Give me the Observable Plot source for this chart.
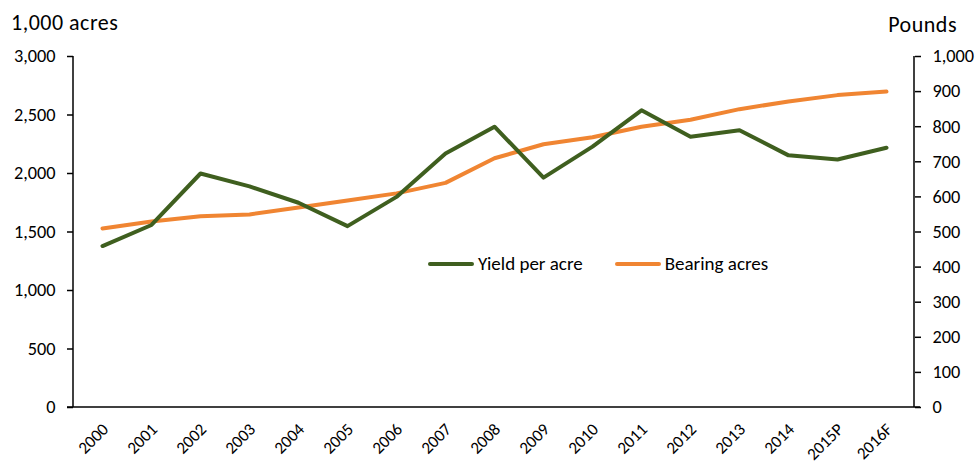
<!DOCTYPE html>
<html>
<head>
<meta charset="utf-8">
<script src="https://cdn.jsdelivr.net/npm/d3@7"></script>
<script src="https://cdn.jsdelivr.net/npm/@observablehq/plot@0.6"></script>
<style>
  body { margin: 0; background: #fff; }
  #chart { position: relative; width: 977px; height: 466px; font-family: Carlito, Calibri, Lato, sans-serif; color: #000; }
  .ttl { position: absolute; font-size: 22px; line-height: 1; letter-spacing: 0.5px; }
  .legend { position: absolute; top: 254px; left: 428px; display: flex; align-items: center; font-size: 19px; line-height: 20px; }
  .legend .item { display: flex; align-items: center; margin-right: 32px; }
  .legend .sw { width: 46px; height: 4px; border-radius: 2px; margin-right: 4px; }
</style>
</head>
<body>
<div id="chart"></div>
<script>
// Categories
const years = ["2000","2001","2002","2003","2004","2005","2006","2007","2008","2009","2010","2011","2012","2013","2014","2015P","2016F"];
// Series
const yieldPerAcre = [1380,1560,2000,1890,1750,1550,1800,2170,2400,1965,2230,2540,2315,2370,2155,2120,2220]; // left-axis units
const bearingAcres = [510,530,545,550,570,590,610,640,710,750,770,800,820,850,872,890,900];            // right-axis units
// Tick labels
const leftTicks = [0,500,1000,1500,2000,2500,3000];
const rightTicks = [0,100,200,300,400,500,600,700,800,900,1000];
const leftTitle = "1,000 acres";
const rightTitle = "Pounds";
const seriesNames = ["Yield per acre", "Bearing acres"];
const colors = ["#3F5F1F", "#F08532"];

const ratio = 3000 / 1000; // right axis -> left axis
const fmt = d3.format(",");
const FS = 18.3;

const yieldData = years.map((year, i) => ({year, value: yieldPerAcre[i]}));
const acresData = years.map((year, i) => ({year, value: bearingAcres[i] * ratio}));

const axisLines = (index, scales, values, dim) => {
  const g = d3.create("svg:g").attr("stroke", "#000").attr("stroke-width", 1.5).attr("fill", "none");
  const x0 = dim.marginLeft, x1 = dim.width - dim.marginRight;
  const y0 = dim.marginTop, y1 = dim.height - dim.marginBottom;
  g.append("line").attr("x1", x0).attr("x2", x0).attr("y1", y0).attr("y2", y1);
  g.append("line").attr("x1", x1).attr("x2", x1).attr("y1", y0).attr("y2", y1);
  g.append("line").attr("x1", x0 - 6).attr("x2", x1 + 6).attr("y1", y1).attr("y2", y1);
  return g.node();
};

const plot = Plot.plot({
  width: 977,
  height: 466,
  marginLeft: 73,
  marginRight: 63,
  marginTop: 56,
  marginBottom: 59,
  style: {fontFamily: "Carlito, Calibri, Lato, sans-serif", fontSize: FS + "px", color: "#000", background: "#fff", overflow: "visible"},
  x: {type: "point", domain: years, padding: 0.5},
  y: {domain: [0, 3000]},
  marks: [
    Plot.axisY(leftTicks, {anchor: "left", tickSize: 6, tickPadding: 12, tickFormat: fmt, label: null, strokeWidth: 1.5, fontSize: FS}),
    Plot.axisY(rightTicks.map(d => d * ratio), {anchor: "right", tickSize: 6, tickPadding: 12, tickFormat: d => fmt(Math.round(d / ratio)), label: null, strokeWidth: 1.5, fontSize: FS}),
    Plot.axisX({tickRotate: -45, tickSize: 0, tickPadding: 19, dx: 3, label: null, fontSize: 17}),
    axisLines,
    Plot.line(acresData, {x: "year", y: "value", stroke: colors[1], strokeWidth: 4, strokeLinecap: "round", strokeLinejoin: "round"}),
    Plot.line(yieldData, {x: "year", y: "value", stroke: colors[0], strokeWidth: 4, strokeLinecap: "round", strokeLinejoin: "round"})
  ]
});

const chart = document.getElementById("chart");
chart.appendChild(plot);

const t1 = document.createElement("div");
t1.className = "ttl"; t1.textContent = leftTitle;
t1.style.left = "11px"; t1.style.top = "12px";
chart.appendChild(t1);

const t2 = document.createElement("div");
t2.className = "ttl"; t2.textContent = rightTitle;
t2.style.right = "20px"; t2.style.top = "14px";
chart.appendChild(t2);

const legend = document.createElement("div");
legend.className = "legend";
seriesNames.forEach((name, i) => {
  const item = document.createElement("div");
  item.className = "item";
  const sw = document.createElement("div");
  sw.className = "sw"; sw.style.background = colors[i];
  const lab = document.createElement("span");
  lab.textContent = name;
  item.appendChild(sw); item.appendChild(lab);
  legend.appendChild(item);
});
chart.appendChild(legend);
</script>
</body>
</html>
